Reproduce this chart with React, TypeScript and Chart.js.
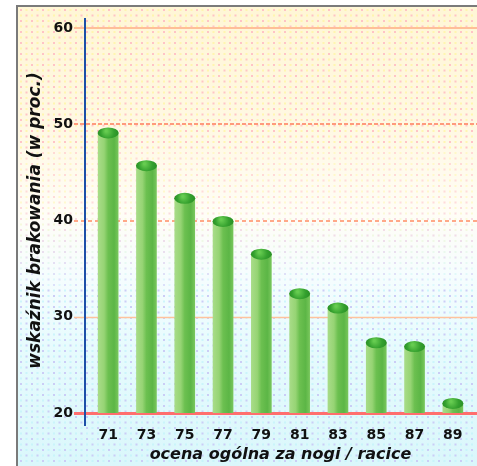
import { useEffect, useRef } from "react";
import { Chart, registerables } from "chart.js";

Chart.register(...registerables);

const categories = ["71", "73", "75", "77", "79", "81", "83", "85", "87", "89"];
const values = [49.1, 45.7, 42.3, 39.9, 36.5, 32.4, 30.9, 27.3, 26.9, 21.0];
const yTicks = [20, 30, 40, 50, 60];
const yTitle = "wskaźnik brakowania (w proc.)";
const xTitle = "ocena ogólna za nogi / racice";

const W = 477;
const H = 466;

function mix(a: number[], b: number[], t: number) {
  return a.map((v, i) => Math.round(v + (b[i] - v) * t));
}
function rgb(c: number[]) {
  return `rgb(${c[0]},${c[1]},${c[2]})`;
}

const bgPlugin = {
  id: "bg",
  beforeDraw(chart: any) {
    const ctx = chart.ctx as CanvasRenderingContext2D;
    ctx.save();
    ctx.fillStyle = "#ffffff";
    ctx.fillRect(0, 0, W, H);
    const x0 = 18, y0 = 7;
    const g = ctx.createLinearGradient(0, y0, 0, H);
    g.addColorStop(0, "#fff6d6");
    g.addColorStop(0.25, "#fff8e2");
    g.addColorStop(0.45, "#fffdf6");
    g.addColorStop(0.58, "#f6fdfe");
    g.addColorStop(0.75, "#e6fbfd");
    g.addColorStop(1, "#daf7fb");
    ctx.fillStyle = g;
    ctx.fillRect(x0, y0, W - x0, H - y0);
    const step = 5.5;
    const pinkTop = [255, 190, 195];
    const yelTop = [255, 246, 160];
    const lilBot = [200, 200, 245];
    const cyBot = [195, 243, 250];
    let row = 0;
    for (let y = y0 + 3; y < H; y += step, row++) {
      const t = Math.min(1, Math.max(0, (y - 200) / 80));
      const fade = y > 150 && y < 290 ? 0.6 : 1;
      let col = 0;
      for (let x = x0 + 3; x < W; x += step, col++) {
        const a = (row + col) % 2 === 0;
        const c = a ? mix(pinkTop, lilBot, t) : mix(yelTop, cyBot, t);
        ctx.globalAlpha = fade * (a ? 0.9 : 0.75);
        ctx.fillStyle = rgb(c);
        ctx.fillRect(x - 1, y - 1, 2, 2);
      }
    }
    ctx.globalAlpha = 1;
    ctx.fillStyle = "#7a7a7a";
    ctx.fillRect(16, 6, 2, H - 6);
    ctx.fillRect(16, 5, W - 16, 2);
    const ys = chart.scales.y;
    const styles: Record<number, any> = {
      60: { c: "#ffbf98", w: 2, d: [] },
      50: { c: "#ff9a7c", w: 2, d: [4, 2] },
      40: { c: "#ffa888", w: 2, d: [4, 3] },
      30: { c: "#ffc29c", w: 1.5, d: [] },
      20: { c: "#ff6e6e", w: 3, d: [] },
    };
    for (const v of yTicks) {
      const s = styles[v];
      const py = Math.round(ys.getPixelForValue(v)) + (s.w % 2 ? 0.5 : 0);
      ctx.strokeStyle = s.c;
      ctx.lineWidth = s.w;
      ctx.setLineDash(s.d);
      ctx.beginPath();
      ctx.moveTo(74, py);
      ctx.lineTo(W, py);
      ctx.stroke();
    }
    ctx.setLineDash([]);
    ctx.restore();
  },
  afterDatasetsDraw(chart: any) {
    const ctx = chart.ctx as CanvasRenderingContext2D;
    const meta = chart.getDatasetMeta(0);
    ctx.save();
    for (const bar of meta.data) {
      const { x, y, width } = bar as any;
      const rx = width / 2 + 0.5;
      const g = ctx.createRadialGradient(x - 2, y - 2, 1, x, y, rx);
      g.addColorStop(0, "#66cc50");
      g.addColorStop(0.6, "#34a02e");
      g.addColorStop(1, "#2a9026");
      ctx.fillStyle = g;
      ctx.beginPath();
      ctx.ellipse(x, y, rx, 5.5, 0, 0, Math.PI * 2);
      ctx.fill();
    }
    ctx.restore();
    ctx.save();
    ctx.fillStyle = "#1d4fa8";
    ctx.fillRect(84, 18, 2, 408);
    ctx.restore();
  },
};

export default function App() {
  const ref = useRef<HTMLCanvasElement>(null);
  useEffect(() => {
    const canvas = ref.current!;
    const chart = new Chart(canvas, {
      type: "bar",
      data: {
        labels: categories,
        datasets: [
          {
            data: values,
            barThickness: 20,
            borderWidth: 0,
            backgroundColor: (c: any) => {
              const chartObj = c.chart;
              const xs = chartObj.scales && chartObj.scales.x;
              if (!xs || c.dataIndex === undefined) return "#7cc860";
              const x = xs.getPixelForValue(c.dataIndex);
              if (!isFinite(x)) return "#7cc860";
              const w = 20;
              const g = chartObj.ctx.createLinearGradient(x - w / 2, 0, x + w / 2, 0);
              g.addColorStop(0, "#a8dc88");
              g.addColorStop(0.3, "#96d474");
              g.addColorStop(0.5, "#6cc050");
              g.addColorStop(0.8, "#5cb646");
              g.addColorStop(1, "#78c65c");
              return g;
            },
          },
        ],
      },
      options: {
        responsive: false,
        animation: false,
        devicePixelRatio: 1,
        layout: { padding: { top: 28, right: 5, left: 0, bottom: 0 } },
        plugins: { legend: { display: false }, tooltip: { enabled: false } },
        scales: {
          x: {
            grid: { display: false, drawTicks: false },
            border: { display: false },
            ticks: {
              padding: 14,
              color: "#111",
              font: { family: "DejaVu Sans", weight: "bold", size: 14 },
            },
            title: {
              display: true,
              text: xTitle,
              color: "#111",
              font: { family: "DejaVu Sans", weight: "bold", style: "italic", size: 16 },
              padding: { top: 0, bottom: 2 },
            },
            afterFit: (s: any) => {
              s.height = 53;
            },
          },
          y: {
            min: 20,
            max: 60,
            grid: { display: false, drawTicks: false },
            border: { display: false },
            ticks: {
              stepSize: 10,
              padding: 16,
              color: "#111",
              font: { family: "DejaVu Sans", weight: "bold", size: 14 },
            },
            title: {
              display: true,
              text: yTitle,
              color: "#111",
              font: { family: "DejaVu Sans", weight: "bold", style: "italic", size: 17 },
              padding: { top: 25, bottom: 0 },
            },
            afterFit: (s: any) => {
              s.width = 89;
            },
          },
        },
      },
      plugins: [bgPlugin],
    } as any);
    return () => chart.destroy();
  }, []);
  return (
    <div style={{ position: "absolute", left: 0, top: 0 }}>
      <canvas ref={ref} width={W} height={H} style={{ display: "block", width: W, height: H }} />
    </div>
  );
}
